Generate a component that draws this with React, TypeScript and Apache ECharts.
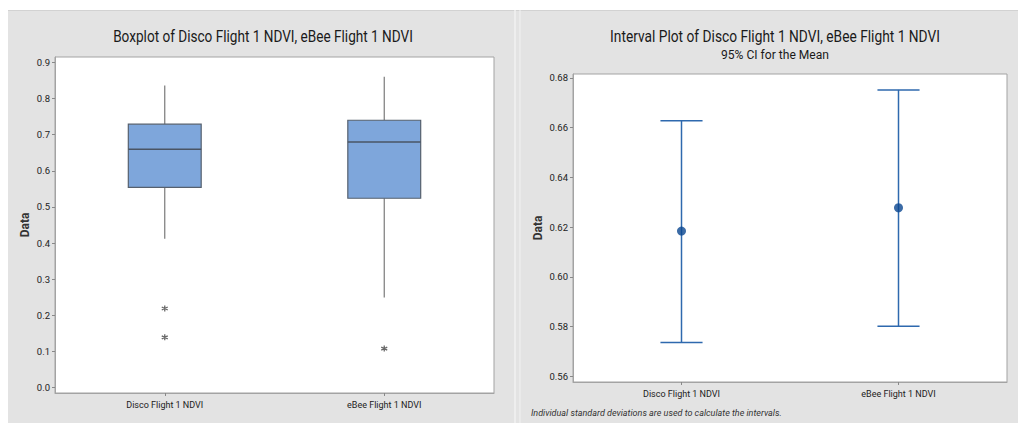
import React, { useEffect, useRef } from "react";
import * as echarts from "echarts";

const categories = ["Disco Flight 1 NDVI", "eBee Flight 1 NDVI"];
// Boxplot statistics
const whiskerLow = [0.412, 0.249];
const q1 = [0.554, 0.524];
const median = [0.66, 0.68];
const q3 = [0.729, 0.74];
const whiskerHigh = [0.836, 0.86];
const outlierCat = [0, 0, 1];
const outlierVal = [0.219, 0.139, 0.108];
const boxTicks = [0, 0.1, 0.2, 0.3, 0.4, 0.5, 0.6, 0.7, 0.8, 0.9];
// Interval plot (95% CI for the mean)
const ciLower = [0.5736, 0.5801];
const ciMean = [0.6184, 0.6278];
const ciUpper = [0.6628, 0.6752];
const ciTicks = [0.56, 0.58, 0.6, 0.62, 0.64, 0.66, 0.68];

const FONT = "'Roboto', 'Noto Sans', sans-serif";

export default function App() {
  const ref = useRef<HTMLDivElement>(null);
  useEffect(() => {
    if (!ref.current) return;
    const chart = echarts.init(ref.current, undefined, { renderer: "svg" });
    const axisLabelBase = { fontFamily: FONT, color: "#222", fontSize: 9 };
    const xAxisBase = (gridIndex: number) => ({
      type: "category", gridIndex, data: categories, boundaryGap: true,
      axisLine: { show: true, onZero: false, lineStyle: { color: "#a3a3a3" } },
      axisTick: { show: true, alignWithLabel: true, length: 3, lineStyle: { color: "#888" } },
      axisLabel: { ...axisLabelBase, margin: 7 },
      splitLine: { show: false },
    });
    const option: any = {
      animation: false,
      textStyle: { fontFamily: FONT },
      grid: [
        { left: 55, top: 57, width: 439, height: 336, show: true, backgroundColor: "#fff", borderColor: "#a3a3a3", borderWidth: 1, containLabel: false },
        { left: 573, top: 74, width: 434, height: 308, show: true, backgroundColor: "#fff", borderColor: "#a3a3a3", borderWidth: 1, containLabel: false },
      ],
      xAxis: [xAxisBase(0), xAxisBase(1)],
      yAxis: [
        {
          type: "value", gridIndex: 0, min: -0.015, max: 0.915,
          name: "Data", nameLocation: "middle", nameGap: 24,
          nameTextStyle: { fontFamily: FONT, fontWeight: "bold", fontSize: 12, color: "#333" },
          axisLine: { show: true, onZero: false, lineStyle: { color: "#a3a3a3" } },
          axisTick: { show: true, length: 3, customValues: boxTicks, lineStyle: { color: "#888" } },
          axisLabel: { ...axisLabelBase, fontSize: 9.5, margin: 5, customValues: boxTicks, formatter: (v: number) => v.toFixed(1) },
          splitLine: { show: false },
        },
        {
          type: "value", gridIndex: 1, min: 0.5577, max: 0.6816,
          name: "Data", nameLocation: "middle", nameGap: 29,
          nameTextStyle: { fontFamily: FONT, fontWeight: "bold", fontSize: 12, color: "#333" },
          axisLine: { show: true, onZero: false, lineStyle: { color: "#a3a3a3" } },
          axisTick: { show: true, length: 3, customValues: ciTicks, lineStyle: { color: "#888" } },
          axisLabel: { ...axisLabelBase, fontSize: 9.5, margin: 5, customValues: ciTicks, formatter: (v: number) => v.toFixed(2) },
          splitLine: { show: false },
        },
      ],
      series: [
        {
          type: "custom", xAxisIndex: 0, yAxisIndex: 0,
          data: categories.map((_, i) => [i, whiskerLow[i], q1[i], median[i], q3[i], whiskerHigh[i]]),
          encode: { x: 0, y: [1, 2, 3, 4, 5] },
          renderItem: (params: any, api: any) => {
            const i = api.value(0);
            const pLow = api.coord([i, api.value(1)]);
            const pQ1 = api.coord([i, api.value(2)]);
            const pMed = api.coord([i, api.value(3)]);
            const pQ3 = api.coord([i, api.value(4)]);
            const pHigh = api.coord([i, api.value(5)]);
            const half = api.size([1, 0])[0] * 0.166;
            const x = pMed[0];
            return {
              type: "group",
              children: [
                { type: "line", shape: { x1: x, y1: pHigh[1], x2: x, y2: pQ3[1] }, style: { stroke: "#7a7a7a", lineWidth: 1.2 } },
                { type: "line", shape: { x1: x, y1: pQ1[1], x2: x, y2: pLow[1] }, style: { stroke: "#7a7a7a", lineWidth: 1.2 } },
                { type: "rect", shape: { x: x - half, y: pQ3[1], width: half * 2, height: pQ1[1] - pQ3[1] }, style: { fill: "#7ea6db", stroke: "#56606e", lineWidth: 1.2 } },
                { type: "line", shape: { x1: x - half, y1: pMed[1], x2: x + half, y2: pMed[1] }, style: { stroke: "#4a5464", lineWidth: 1.5 } },
              ],
            };
          },
        },
        {
          type: "scatter", xAxisIndex: 0, yAxisIndex: 0,
          data: outlierCat.map((c, i) => [c, outlierVal[i]]),
          symbol: "path://M5,0L5,10M0.67,2.5L9.33,7.5M0.67,7.5L9.33,2.5",
          symbolSize: 6,
          itemStyle: { color: "none", borderColor: "#444", borderWidth: 1.3 },
        },
        {
          type: "custom", xAxisIndex: 1, yAxisIndex: 1,
          data: categories.map((_, i) => [i, ciLower[i], ciUpper[i]]),
          encode: { x: 0, y: [1, 2] },
          renderItem: (params: any, api: any) => {
            const i = api.value(0);
            const pLo = api.coord([i, api.value(1)]);
            const pHi = api.coord([i, api.value(2)]);
            const half = api.size([1, 0])[0] * 0.097;
            const x = pLo[0];
            const st = { stroke: "#2e69ae", lineWidth: 1.5 };
            return {
              type: "group",
              children: [
                { type: "line", shape: { x1: x, y1: pHi[1], x2: x, y2: pLo[1] }, style: st },
                { type: "line", shape: { x1: x - half, y1: pHi[1], x2: x + half, y2: pHi[1] }, style: st },
                { type: "line", shape: { x1: x - half, y1: pLo[1], x2: x + half, y2: pLo[1] }, style: st },
              ],
            };
          },
        },
        {
          type: "scatter", xAxisIndex: 1, yAxisIndex: 1,
          data: categories.map((_, i) => [i, ciMean[i]]),
          symbol: "circle", symbolSize: 9,
          itemStyle: { color: "#0a4690" },
          z: 5,
        },
      ],
      graphic: [
        { type: "line", shape: { x1: 8, y1: 10.5, x2: 1018, y2: 10.5 }, style: { stroke: "#d2d2d2", lineWidth: 1 } },
        { type: "line", shape: { x1: 515, y1: 10, x2: 515, y2: 423 }, style: { stroke: "#f2f2f2", lineWidth: 1.5 } },
        { type: "line", shape: { x1: 520, y1: 10, x2: 520, y2: 423 }, style: { stroke: "#f2f2f2", lineWidth: 1 } },
        { type: "text", x: 263, y: 37, scaleX: 0.85, style: { text: "Boxplot of Disco Flight 1 NDVI, eBee Flight 1 NDVI", fontFamily: FONT, fontSize: 16, fill: "#1a1a1a", textAlign: "center", textVerticalAlign: "middle" } },
        { type: "text", x: 775, y: 37, scaleX: 0.86, style: { text: "Interval Plot of Disco Flight 1 NDVI, eBee Flight 1 NDVI", fontFamily: FONT, fontSize: 16, fill: "#1a1a1a", textAlign: "center", textVerticalAlign: "middle" } },
        { type: "text", x: 775, y: 54, scaleX: 0.93, style: { text: "95% CI for the Mean", fontFamily: FONT, fontSize: 13, fill: "#1a1a1a", textAlign: "center", textVerticalAlign: "middle" } },
        { type: "text", x: 531, y: 413, style: { text: "Individual standard deviations are used to calculate the intervals.", fontFamily: FONT, fontSize: 9, fontStyle: "italic", fill: "#333", textAlign: "left", textVerticalAlign: "middle" } },
      ],
    };
    chart.setOption(option);
    return () => chart.dispose();
  }, []);
  return (
    <div style={{ position: "fixed", left: 0, top: 0, width: 1018, height: 423, background: "#fff" }}>
      <div style={{ position: "absolute", left: 8, top: 10, width: 1010, height: 413, background: "#e3e3e3" }} />
      <div ref={ref} style={{ position: "absolute", left: 0, top: 0, width: 1018, height: 423 }} />
    </div>
  );
}
